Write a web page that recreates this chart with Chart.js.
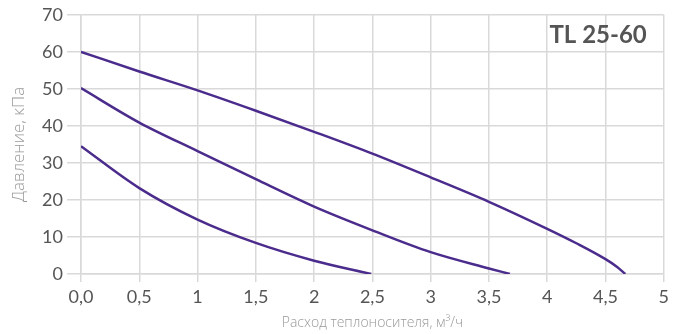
<!DOCTYPE html>
<html><head><meta charset="utf-8">
<script src="https://cdn.jsdelivr.net/npm/chart.js@4/dist/chart.umd.min.js"></script>
<style>html,body{margin:0;padding:0;background:#fff}#wrap{width:673px;height:334px}</style>
</head><body><div id="wrap"><canvas id="c" width="673" height="334"></canvas></div>
<script>
const chartTitle = "TL 25-60";
const xAxisTitle = "Расход теплоносителя, м³/ч";
const yAxisTitle = "Давление, кПа";
const xTickLabels = ["0,0","0,5","1","1,5","2","2,5","3","3,5","4","4,5","5"];
const yTickLabels = ["0","10","20","30","40","50","60","70"];

const flowHigh = [0, 0.5, 1, 1.5, 2, 2.5, 3, 3.5, 4, 4.25, 4.5, 4.6, 4.67];
const presHigh = [60.0, 54.7, 49.6, 44.1, 38.4, 32.5, 26.1, 19.5, 12.2, 8.3, 4.0, 1.9, 0];
const flowMid = [0, 0.5, 1, 1.5, 2, 2.5, 3, 3.5, 3.68];
const presMid = [50.2, 40.9, 33.2, 25.6, 18.2, 11.8, 5.9, 1.5, 0];
const flowLow = [0, 0.5, 1, 1.5, 2, 2.49];
const presLow = [34.5, 23.2, 14.7, 8.4, 3.6, 0];

const lineColor = '#4b2c8c';
const gridColor = '#d9d9d9';

function pts(xs, ys){ return xs.map((x,i)=>({x:x, y:ys[i]})); }
function ds(xs, ys){
  return {data: pts(xs, ys), borderColor: lineColor, borderWidth: 2.5, pointRadius: 0,
          showLine: true, fill: false, cubicInterpolationMode: 'monotone'};
}

const titlePlugin = {
  id: 'insideTitle',
  afterDraw(chart){
    const ctx = chart.ctx;
    ctx.save();
    ctx.font = 'bold 24px Lato';
    ctx.fillStyle = '#555555';
    ctx.textAlign = 'right';
    ctx.textBaseline = 'alphabetic';
    ctx.fillText(chartTitle, chart.chartArea.right - 17, chart.chartArea.top + 28);
    ctx.restore();
  }
};

new Chart(document.getElementById('c'), {
  type: 'scatter',
  data: { datasets: [ds(flowHigh, presHigh), ds(flowMid, presMid), ds(flowLow, presLow)] },
  options: {
    responsive: false, animation: false,
    layout: { padding: { top: 8, right: 6, left: 0, bottom: 0 } },
    plugins: { legend: { display: false }, tooltip: { enabled: false } },
    scales: {
      x: {
        type: 'linear', min: 0, max: 5,
        afterFit(s){ s.height = 60; },
        ticks: { stepSize: 0.5, color: '#555', font: { family: 'Lato', size: 18 }, padding: 4,
                 callback: (v, i) => xTickLabels[i] },
        grid: { color: gridColor, lineWidth: 1.5, tickLength: 8, tickColor: gridColor },
        border: { color: gridColor, width: 1.5 },
        title: { display: true, text: xAxisTitle, color: '#999', font: { family: 'Open Sans', size: 14, weight: '300' }, padding: { top: 2, bottom: 3 } }
      },
      y: {
        type: 'linear', min: 0, max: 70,
        afterFit(s){ s.width = 81; },
        ticks: { stepSize: 10, color: '#555', font: { family: 'Lato', size: 18 }, padding: 4,
                 callback: (v, i) => yTickLabels[i] },
        grid: { color: gridColor, lineWidth: 1.5, tickLength: 14, tickColor: gridColor },
        border: { color: gridColor, width: 1.5 },
        title: { display: true, text: yAxisTitle, color: '#999', font: { family: 'Open Sans', size: 17, weight: '300' }, padding: { top: 9, bottom: 0 } }
      }
    }
  },
  plugins: [titlePlugin]
});
</script>
</body></html>
